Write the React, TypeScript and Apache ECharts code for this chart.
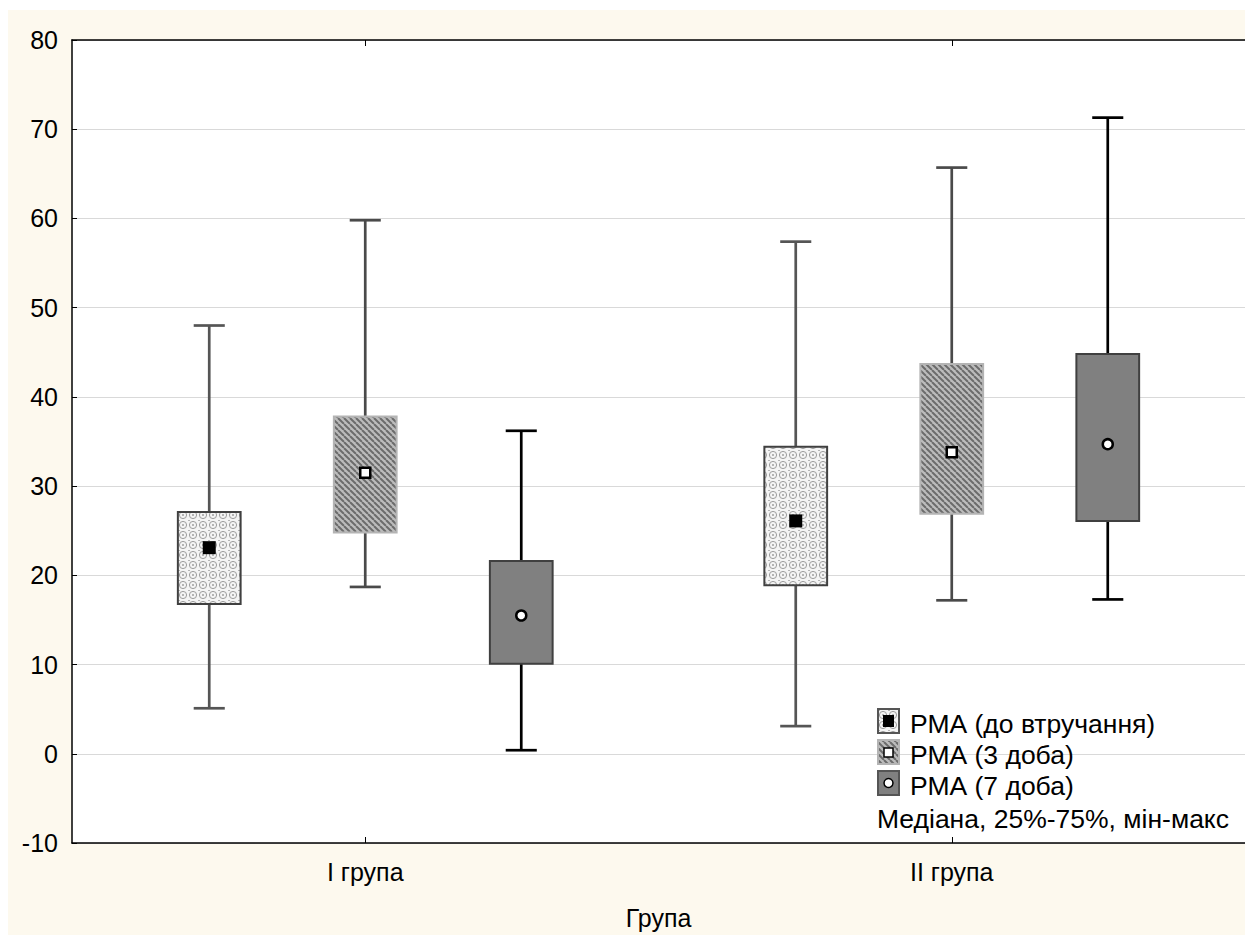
import React, { useEffect, useRef } from "react";
import * as echarts from "echarts";

// ---- data ----
const groups = ["I група", "II група"];
const seriesNames = ["РМА (до втручання)", "РМА (3 доба)", "РМА (7 доба)"];
// each row: [min, q1, median, q3, max]
const baselineStats = [
  [5.1, 16.8, 23.1, 27.1, 48.0],
  [3.1, 18.9, 26.1, 34.4, 57.4],
];
const day3Stats = [
  [18.7, 24.8, 31.5, 37.8, 59.8],
  [17.2, 26.9, 33.8, 43.7, 65.7],
];
const day7Stats = [
  [0.4, 10.1, 15.5, 21.6, 36.2],
  [17.3, 26.1, 34.7, 44.8, 71.3],
];
const yMin = -10;
const yMax = 80;
const yStep = 10;
const xAxisTitle = "Група";
const noteText = "Медіана, 25%-75%, мін-макс";

const FONT = "'Liberation Sans', Arial, sans-serif";

function makePattern1(): HTMLCanvasElement {
  const c = document.createElement("canvas");
  c.width = 10;
  c.height = 10;
  const ctx = c.getContext("2d")!;
  ctx.fillStyle = "#f4f4f4";
  ctx.fillRect(0, 0, 10, 10);
  ctx.strokeStyle = "#9c9c9c";
  ctx.lineWidth = 1;
  ctx.beginPath();
  ctx.arc(5, 5, 3.6, 0, Math.PI * 2);
  ctx.stroke();
  ctx.fillStyle = "#b4b4b4";
  ctx.fillRect(0, 0, 2, 1);
  ctx.fillRect(4, 4, 2, 2);
  return c;
}

function makePattern2(): HTMLCanvasElement {
  const c = document.createElement("canvas");
  c.width = 6;
  c.height = 6;
  const ctx = c.getContext("2d")!;
  ctx.fillStyle = "#bcbcbc";
  ctx.fillRect(0, 0, 6, 6);
  ctx.strokeStyle = "#6c6c6c";
  ctx.lineWidth = 2;
  for (const k of [-6, 0, 6]) {
    ctx.beginPath();
    ctx.moveTo(k, 0);
    ctx.lineTo(k + 6, 6);
    ctx.stroke();
  }
  return c;
}

export default function App() {
  const ref = useRef<HTMLDivElement>(null);

  useEffect(() => {
    if (!ref.current) return;
    const chart = echarts.init(ref.current, null, { renderer: "svg" });
    const p1 = { image: makePattern1(), repeat: "repeat" };
    const p2 = { image: makePattern2(), repeat: "repeat" };

    const styles = [
      { offset: -0.266, fill: p1, border: "#404040", whisker: "#555555", marker: "blackSquare" },
      { offset: 0, fill: p2, border: "#b4b4b4", whisker: "#4a4a4a", marker: "whiteSquare" },
      { offset: 0.266, fill: "#808080", border: "#404040", whisker: "#000000", marker: "whiteCircle" },
    ];

    const makeRender = (st: any) => (params: any, api: any) => {
      const idx = api.value(0);
      const band = api.size([1, 0])[0];
      const cx = api.coord([idx, 0])[0] + st.offset * band;
      const y = (k: number) => api.coord([idx, api.value(k)])[1];
      const yLo = y(1),
        yQ1 = y(2),
        yMed = y(3),
        yQ3 = y(4),
        yHi = y(5);
      const bw = band * 0.107;
      const cw = band * 0.053;
      let marker: any;
      if (st.marker === "blackSquare") {
        marker = {
          type: "rect",
          shape: { x: cx - 6.5, y: yMed - 6.5, width: 13, height: 13 },
          style: { fill: "#000" },
        };
      } else if (st.marker === "whiteSquare") {
        marker = {
          type: "rect",
          shape: { x: cx - 5, y: yMed - 5, width: 10, height: 10 },
          style: { fill: "#fff", stroke: "#000", lineWidth: 2.5 },
        };
      } else {
        marker = {
          type: "circle",
          shape: { cx, cy: yMed, r: 5 },
          style: { fill: "#fff", stroke: "#000", lineWidth: 2.5 },
        };
      }
      return {
        type: "group",
        children: [
          { type: "line", shape: { x1: cx, y1: yHi, x2: cx, y2: yLo }, style: { stroke: st.whisker, lineWidth: 2.7 } },
          { type: "line", shape: { x1: cx - cw / 2, y1: yHi, x2: cx + cw / 2, y2: yHi }, style: { stroke: st.whisker, lineWidth: 2.7 } },
          { type: "line", shape: { x1: cx - cw / 2, y1: yLo, x2: cx + cw / 2, y2: yLo }, style: { stroke: st.whisker, lineWidth: 2.7 } },
          {
            type: "rect",
            shape: { x: cx - bw / 2, y: yQ3, width: bw, height: yQ1 - yQ3 },
            style: { fill: st.fill, stroke: st.border, lineWidth: 2 },
          },
          marker,
        ],
      };
    };

    const allStats = [baselineStats, day3Stats, day7Stats];
    const series = allStats.map((stats, si) => ({
      type: "custom",
      name: seriesNames[si],
      renderItem: makeRender(styles[si]),
      encode: { x: 0, y: [1, 2, 3, 4, 5] },
      data: stats.map((v, i) => [i, ...v]),
      z: 5,
    }));

    // legend (drawn as graphic)
    const lx = 870;
    const rows = [699, 730, 761];
    const legendGraphics: any[] = [];
    rows.forEach((ry, i) => {
      const fill = i === 0 ? p1 : i === 1 ? p2 : "#808080";
      const border = i === 1 ? "#b4b4b4" : "#555555";
      legendGraphics.push({
        type: "rect",
        shape: { x: lx, y: ry, width: 21, height: 24 },
        style: { fill, stroke: border, lineWidth: 2 },
        z: 10,
      });
      let inner: any;
      if (i === 0) {
        inner = { type: "rect", shape: { x: lx + 5, y: ry + 6, width: 11, height: 12 }, style: { fill: "#000" } };
      } else if (i === 1) {
        inner = {
          type: "rect",
          shape: { x: lx + 6, y: ry + 8, width: 9, height: 9 },
          style: { fill: "#fff", stroke: "#000", lineWidth: 1.5 },
        };
      } else {
        inner = {
          type: "circle",
          shape: { cx: lx + 10.5, cy: ry + 12, r: 4.5 },
          style: { fill: "#fff", stroke: "#000", lineWidth: 1.5 },
        };
      }
      inner.z = 11;
      legendGraphics.push(inner);
      legendGraphics.push({
        type: "text",
        x: 902,
        y: ry + 15,
        style: { text: seriesNames[i], font: `26.5px ${FONT}`, fill: "#000", verticalAlign: "middle" },
        z: 11,
      });
    });
    legendGraphics.push({
      type: "text",
      x: 869,
      y: 809,
      style: { text: noteText, font: `26.5px ${FONT}`, fill: "#000", verticalAlign: "middle" },
      z: 11,
    });

    chart.setOption({
      animation: false,
      backgroundColor: "#fdf9ee",
      grid: {
        left: 64,
        top: 30,
        right: 0,
        bottom: 90,
        show: true,
        backgroundColor: "#ffffff",
        borderWidth: 0,
      },
      xAxis: [
        {
          type: "category",
          data: groups,
          boundaryGap: true,
          position: "bottom",
          axisLine: { show: true, onZero: false, lineStyle: { color: "#000", width: 1.5 } },
          axisTick: { show: true, inside: true, alignWithLabel: true, length: 6, lineStyle: { color: "#000" } },
          axisLabel: { color: "#000", fontSize: 25, fontFamily: FONT, margin: 16 },
          splitLine: { show: false },
          name: xAxisTitle,
          nameLocation: "middle",
          nameGap: 62,
          nameTextStyle: { color: "#000", fontSize: 25, fontFamily: FONT },
        },
        {
          type: "category",
          data: groups,
          boundaryGap: true,
          position: "top",
          axisLine: { show: true, onZero: false, lineStyle: { color: "#000", width: 1.5 } },
          axisTick: { show: true, inside: true, alignWithLabel: true, length: 6, lineStyle: { color: "#000" } },
          axisLabel: { show: false },
          splitLine: { show: false },
        },
      ],
      yAxis: {
        type: "value",
        min: yMin,
        max: yMax,
        interval: yStep,
        axisLine: { show: true, lineStyle: { color: "#000", width: 1.5 } },
        axisTick: { show: true, inside: true, length: 5, lineStyle: { color: "#000" } },
        axisLabel: { color: "#000", fontSize: 25, fontFamily: FONT, margin: 14 },
        splitLine: { show: true, lineStyle: { color: "#d9d9d9", width: 1.2 } },
      },
      series,
      graphic: legendGraphics,
    });

    return () => chart.dispose();
  }, []);

  return <div ref={ref} style={{ position: "absolute", left: 8, top: 10, width: 1237, height: 925 }} />;
}
